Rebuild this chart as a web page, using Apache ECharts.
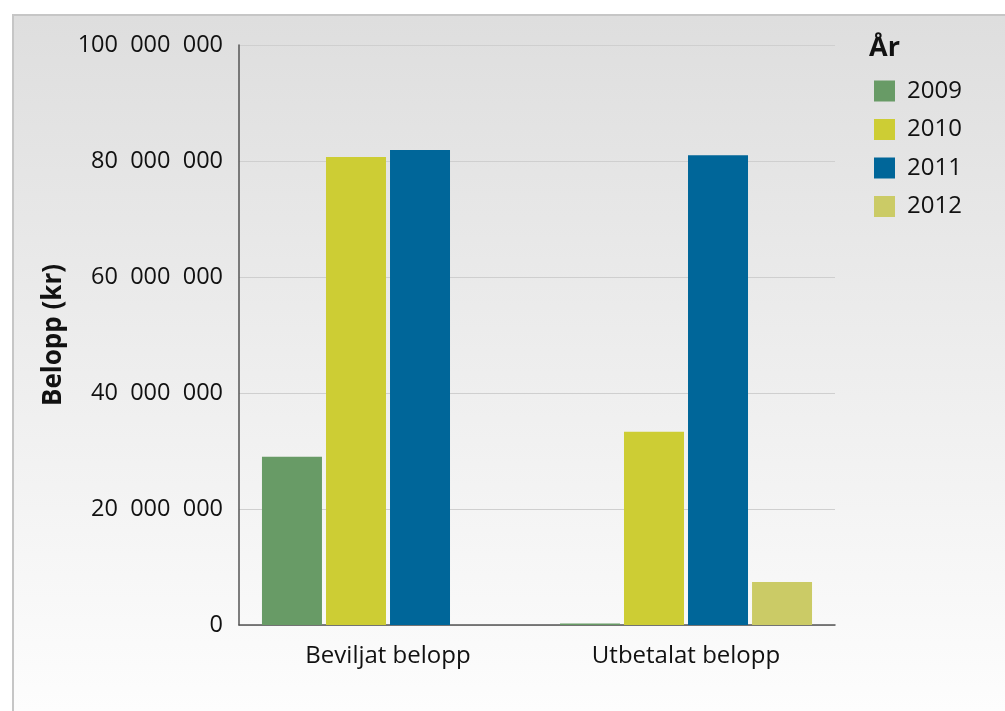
<!DOCTYPE html>
<html>
<head>
<meta charset="utf-8">
<script src="https://cdn.jsdelivr.net/npm/echarts@6/dist/echarts.min.js"></script>
<style>
html,body{margin:0;padding:0;width:1005px;height:711px;overflow:hidden;background:#fff;}
#frame{position:absolute;left:12px;top:14px;width:993px;height:697px;border-left:2px solid #c6c6c6;border-top:2px solid #c6c6c6;box-sizing:border-box;background:linear-gradient(to bottom,#dedede 0%,#ececec 45%,#fdfdfd 100%);}
#chart{position:absolute;left:0;top:0;width:1005px;height:711px;}
</style>
</head>
<body>
<div id="frame"></div>
<div id="chart"></div>
<script>
const categories = ['Beviljat belopp', 'Utbetalat belopp'];
const years = ['2009', '2010', '2011', '2012'];
const values2009 = [29000000, 250000];
const values2010 = [80700000, 33300000];
const values2011 = [81900000, 81000000];
const values2012 = [null, 7400000];
const colors = ['#689b66', '#cdcd34', '#006699', '#cbcb66'];

const seriesData = [values2009, values2010, values2011, values2012];
const fontFam = '"Open Sans", "Noto Sans", sans-serif';

const chart = echarts.init(document.getElementById('chart'));
chart.setOption({
  backgroundColor: 'transparent',
  animation: false,
  color: colors,
  grid: {left: 239, right: 170, top: 45, bottom: 86, containLabel: false},
  title: {
    text: 'År', left: 864, top: 30,
    textStyle: {fontFamily: fontFam, fontSize: 27, fontWeight: 'bold', color: '#111'}
  },
  legend: {
    orient: 'vertical', left: 869, top: 74,
    itemWidth: 21, itemHeight: 21, itemGap: 14.5,
    icon: 'rect',
    data: years,
    textStyle: {fontFamily: fontFam, fontSize: 24, color: '#111', padding: [0, 0, 0, 7]}
  },
  xAxis: {
    type: 'category', data: categories,
    axisLine: {lineStyle: {color: '#555', width: 1.5}},
    axisTick: {show: false},
    axisLabel: {fontFamily: fontFam, fontSize: 24, color: '#111', margin: 19}
  },
  yAxis: {
    type: 'value', min: 0, max: 100000000, interval: 20000000,
    name: 'Belopp (kr)', nameLocation: 'middle', nameGap: 172, nameRotate: 90,
    nameTextStyle: {fontFamily: fontFam, fontSize: 26, fontWeight: 'bold', color: '#111'},
    axisLine: {show: true, lineStyle: {color: '#555', width: 1.5}},
    axisTick: {show: false},
    splitLine: {lineStyle: {color: '#cfcfcf', width: 1}},
    axisLabel: {
      fontFamily: fontFam, fontSize: 23.5, color: '#111', margin: 16,
      formatter: function (v) {
        if (v === 0) return '0';
        const s = String(Math.round(v));
        return s.replace(/\B(?=(\d{3})+(?!\d))/g, '  ');
      }
    }
  },
  series: years.map(function (y, i) {
    return {
      name: y, type: 'bar', data: seriesData[i],
      barWidth: 60, barGap: '6.7%',
      itemStyle: {color: colors[i]}
    };
  })
});
</script>
</body>
</html>
